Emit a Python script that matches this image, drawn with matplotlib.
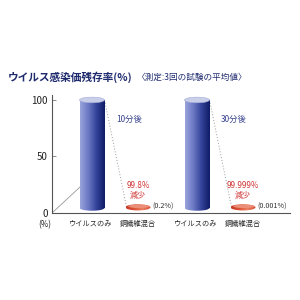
import matplotlib.pyplot as plt
import numpy as np
from matplotlib.patches import Ellipse

plt.rcParams['font.family'] = ['Noto Sans CJK JP', 'DejaVu Sans']

# data
categories = ['ウイルスのみ', '銅繊維混合', 'ウイルスのみ', '銅繊維混合']
values = [100, 0.2, 100, 0.001]
x_pos = [92, 138, 197, 243]
time_labels = ['10分後', '30分後']
reduce_labels = ['99.8%\n減少', '99.999%\n減少']
remain_labels = ['(0.2%)', '(0.001%)']
y_ticks = [0, 50, 100]

NAVY = '#1e2a6e'
RED = '#d03535'
FLOOR = 4.5
CYL_W = 25
ELL_H = 5.0

fig = plt.figure(figsize=(3, 3), dpi=100)
ax = fig.add_axes([52 / 300, 87 / 300, 238 / 300, 118 / 300])
ax.set_xlim(52, 290)

for s in ['top', 'right']:
    ax.spines[s].set_visible(False)
for s in ['left', 'bottom']:
    ax.spines[s].set_color('#555555')
    ax.spines[s].set_linewidth(0.8)
ax.set_xticks([])
ax.set_yticks(y_ticks)
ax.set_yticklabels([str(t) for t in y_ticks], fontsize=7, color='#222222')
ax.tick_params(axis='y', direction='in', length=3, width=0.6, color='#777777', pad=3)

blue_grad = np.array([[0.60, 0.64, 0.86], [0.42, 0.47, 0.77], [0.20, 0.26, 0.60], [0.06, 0.11, 0.40]])
red_grad = np.array([[0.78, 0.22, 0.14], [0.86, 0.33, 0.22], [0.92, 0.50, 0.38], [0.82, 0.30, 0.20]])


def gradient_img(cols):
    t = np.linspace(0, 1, 64)
    idx = np.arange(len(cols))
    rgb = np.stack([np.interp(t * (len(cols) - 1), idx, cols[:, k]) for k in range(3)], axis=-1)
    return rgb[np.newaxis, :, :]


for i, (x, v) in enumerate(zip(x_pos, values)):
    if i % 2 == 0:
        bars = ax.bar(x, v - FLOOR, bottom=FLOOR, width=CYL_W, color='none', zorder=3)
        im = ax.imshow(gradient_img(blue_grad), extent=(x - CYL_W / 2, x + CYL_W / 2, FLOOR - ELL_H / 2, v),
                       aspect='auto', zorder=3)
        im.set_clip_path(bars[0])
        base = Ellipse((x, FLOOR), CYL_W, ELL_H, facecolor='none', edgecolor='none')
        ax.add_patch(base)
        im2 = ax.imshow(gradient_img(blue_grad), extent=(x - CYL_W / 2, x + CYL_W / 2, FLOOR - ELL_H / 2, v),
                        aspect='auto', zorder=3)
        im2.set_clip_path(base)
        ax.add_patch(Ellipse((x, v), CYL_W, ELL_H, facecolor='#c9cfe8', edgecolor='#a3abd6',
                             linewidth=0.4, zorder=4))
    else:
        disc = Ellipse((x, FLOOR + 0.5), CYL_W, ELL_H * 1.1, facecolor='none', edgecolor='none')
        ax.add_patch(disc)
        im3 = ax.imshow(gradient_img(red_grad), extent=(x - CYL_W / 2, x + CYL_W / 2, 0, 10),
                        aspect='auto', zorder=3)
        im3.set_clip_path(disc)
        ax.add_patch(Ellipse((x + 1, FLOOR + 1.4), CYL_W * 0.85, ELL_H * 0.6, facecolor='#ec8f78',
                             edgecolor='none', zorder=3.1))
    ax.text(x - 2 if i % 2 == 0 else x, -6, categories[i], ha='center', va='top',
            fontsize=5.2, color='#222222')

ax.set_ylim(0, 104.4)

for j in range(2):
    xb = x_pos[2 * j]
    xs = x_pos[2 * j + 1]
    ax.plot([xb + CYL_W / 2, xs - CYL_W / 2 + 1], [values[2 * j], FLOOR + 1],
            linestyle=(0, (1, 2)), color='#999999', linewidth=0.7, zorder=2)
    ax.text(xb + 37, 83, time_labels[j], ha='center', va='center', fontsize=6, color='#3a4590')
    ax.text(xs, 20, reduce_labels[j], ha='center', va='center', fontsize=5.8, color=RED,
            linespacing=1.05)
    ax.text(xs + CYL_W / 2 + 2, FLOOR + 1, remain_labels[j], ha='left', va='center',
            fontsize=5.2, color='#333333')

# floor depth line
ax.plot([52, 80], [0, 23], color='#999999', linewidth=0.6, zorder=1)

ax.text(45, -6, '(%)', ha='center', va='top', fontsize=5.8, color='#222222', clip_on=False)

fig.text(8 / 300, 1 - 77 / 300, 'ウイルス感染価残存率(%)', fontsize=7.7, fontweight='bold',
         color=NAVY, va='center', ha='left')
fig.text(137 / 300, 1 - 77 / 300, '〈測定:3回の試験の平均値〉', fontsize=6.2,
         color=NAVY, va='center', ha='left')

fig.savefig('out.png', dpi=100)
